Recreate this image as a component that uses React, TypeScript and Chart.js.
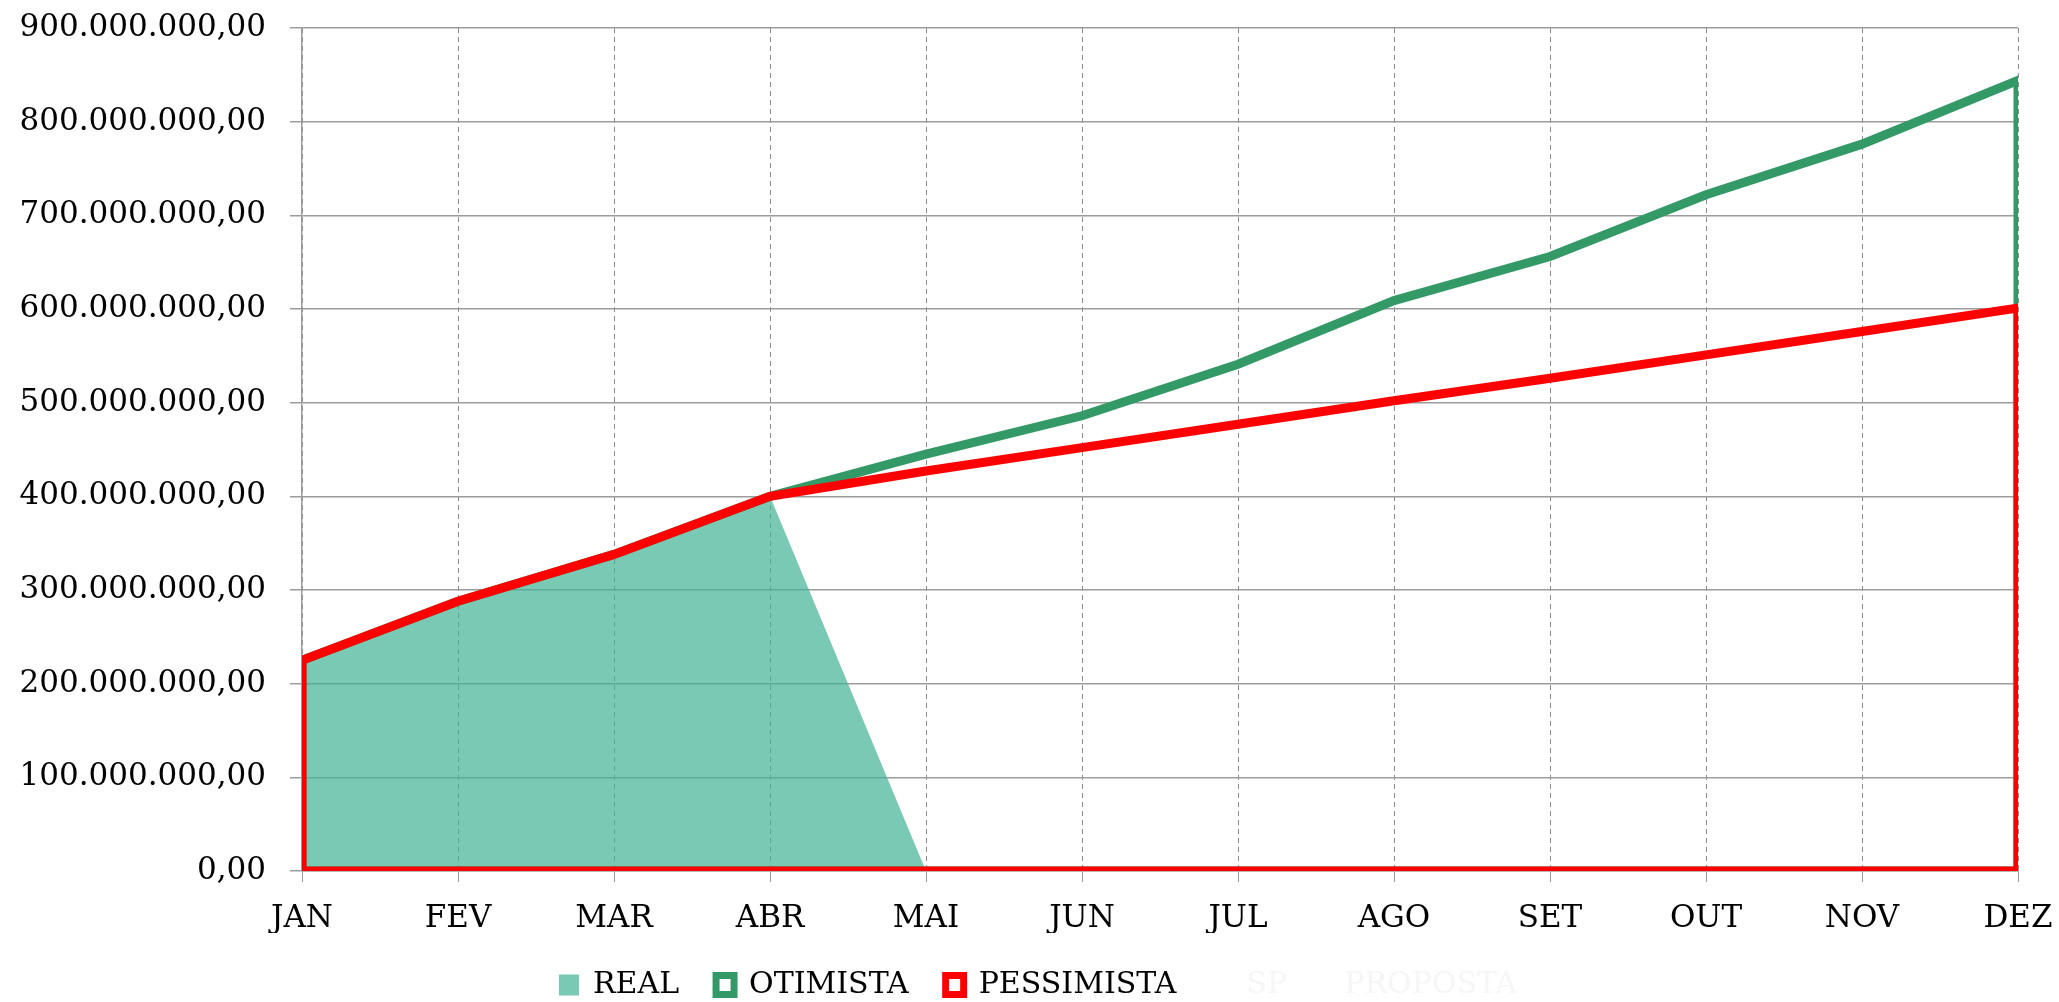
import React, { useEffect, useRef } from 'react';
import { Chart, registerables } from 'chart.js';

Chart.register(...registerables);

const months = ['JAN', 'FEV', 'MAR', 'ABR', 'MAI', 'JUN', 'JUL', 'AGO', 'SET', 'OUT', 'NOV', 'DEZ'];
// values in millions
const realValues = [225, 288, 338, 400, 0, 0, 0, 0, 0, 0, 0, 0];
const otimistaValues = [225, 288, 338, 400, 445, 486, 541, 609, 656, 722, 776, 844];
const pessimistaValues = [225, 288, 338, 400, 427, 452, 477, 502, 526, 551, 576, 601];
const seriesLabels = ['REAL', 'OTIMISTA', 'PESSIMISTA'];
const extraLegendLabel = 'SP      PROPOSTA';
const UNIT = 1000000;
const Y_MAX = 900;
const Y_STEP = 100;

const TEAL_FILL = 'rgba(65,178,148,0.7)';
const TEAL_SOLID = '#7ac9b4';
const GREEN = '#339966';
const RED = '#ff0000';
const FONT = 'DejaVu Serif';

function fmt(v: number): string {
  const s = Math.round(v).toString();
  return s.replace(/\B(?=(\d{3})+(?!\d))/g, '.') + ',00';
}

function points(vals: number[]) {
  return vals.map((v, i) => ({ x: i, y: v * UNIT }));
}

function outline(vals: number[]) {
  const last = vals.length - 1;
  return [{ x: 0, y: 0 }, ...points(vals), { x: last, y: 0 }, { x: 0, y: 0 }];
}

export default function App() {
  const ref = useRef<HTMLCanvasElement | null>(null);

  useEffect(() => {
    document.body.style.margin = '0';
    const canvas = ref.current;
    if (!canvas) return;
    const chart = new Chart(canvas, {
      type: 'line',
      data: {
        datasets: [
          {
            label: seriesLabels[0],
            data: points(realValues),
            fill: 'origin',
            backgroundColor: TEAL_FILL,
            borderWidth: 0,
            borderColor: 'rgba(0,0,0,0)',
            pointRadius: 0,
            tension: 0,
            clip: 0,
            order: 3,
          },
          {
            label: seriesLabels[1],
            data: outline(otimistaValues),
            fill: false,
            borderColor: GREEN,
            borderWidth: 9,
            pointRadius: 0,
            tension: 0,
            clip: 0,
            order: 2,
          },
          {
            label: seriesLabels[2],
            data: outline(pessimistaValues),
            fill: false,
            borderColor: RED,
            borderWidth: 9,
            pointRadius: 0,
            tension: 0,
            clip: 0,
            order: 1,
          },
        ],
      },
      options: {
        responsive: false,
        animation: false,
        events: [],
        layout: { padding: { left: 18, right: 0, top: 28, bottom: -8 } },
        font: { family: FONT },
        scales: {
          x: {
            type: 'linear',
            min: 0,
            max: months.length - 1,
            afterFit: (scale: any) => {
              scale.paddingLeft = 0;
              scale.paddingRight = 41;
              scale.height = 62;
            },
            ticks: {
              stepSize: 1,
              autoSkip: false,
              maxRotation: 0,
              padding: 18.4,
              color: '#000',
              font: { family: FONT, size: 31 },
              callback: (v: any) => months[Number(v)] ?? '',
            },
            grid: {
              color: '#8c8c8c',
              lineWidth: 1,
              tickLength: 11,
              tickColor: '#9a9a9a',
            },
            border: { display: true, color: '#a0a0a0', width: 1.5, dash: [5, 4] },
          },
          y: {
            min: 0,
            max: Y_MAX * UNIT,
            afterFit: (scale: any) => {
              scale.paddingTop = 0;
              scale.paddingBottom = 0;
              scale.width = 284;
            },
            ticks: {
              stepSize: Y_STEP * UNIT,
              padding: 24,
              color: '#000',
              font: { family: FONT, size: 31 },
              callback: (v: any) => fmt(Number(v)),
            },
            grid: {
              color: '#9c9c9c',
              lineWidth: 1.5,
              tickLength: 12,
            },
            border: { display: true, color: '#9c9c9c', width: 1.5 },
          },
        },
        plugins: {
          tooltip: { enabled: false },
          legend: {
            display: true,
            position: 'bottom',
            align: 'center',
            labels: {
              boxWidth: 18,
              boxHeight: 19,
              padding: 37,
              color: '#000',
              font: { family: FONT, size: 30 },
              generateLabels: (c: any) => {
                const ds = c.data.datasets;
                return [
                  { text: ds[0].label, fillStyle: TEAL_SOLID, strokeStyle: TEAL_SOLID, lineWidth: 2, hidden: false, fontColor: '#000', datasetIndex: 0 },
                  { text: ds[1].label, fillStyle: '#ffffff', strokeStyle: GREEN, lineWidth: 7, hidden: false, fontColor: '#000', datasetIndex: 1 },
                  { text: ds[2].label, fillStyle: '#ffffff', strokeStyle: RED, lineWidth: 7, hidden: false, fontColor: '#000', datasetIndex: 2 },
                  { text: extraLegendLabel, fillStyle: 'rgba(0,0,0,0)', strokeStyle: 'rgba(0,0,0,0)', lineWidth: 0, hidden: false, fontColor: '#f6f6f6' },
                ];
              },
            },
          },
        },
      } as any,
    });
    return () => chart.destroy();
  }, []);

  return (
    <div style={{ width: 2059, height: 1002 }}>
      <canvas ref={ref} width={2059} height={1002} style={{ display: 'block' }} />
    </div>
  );
}
